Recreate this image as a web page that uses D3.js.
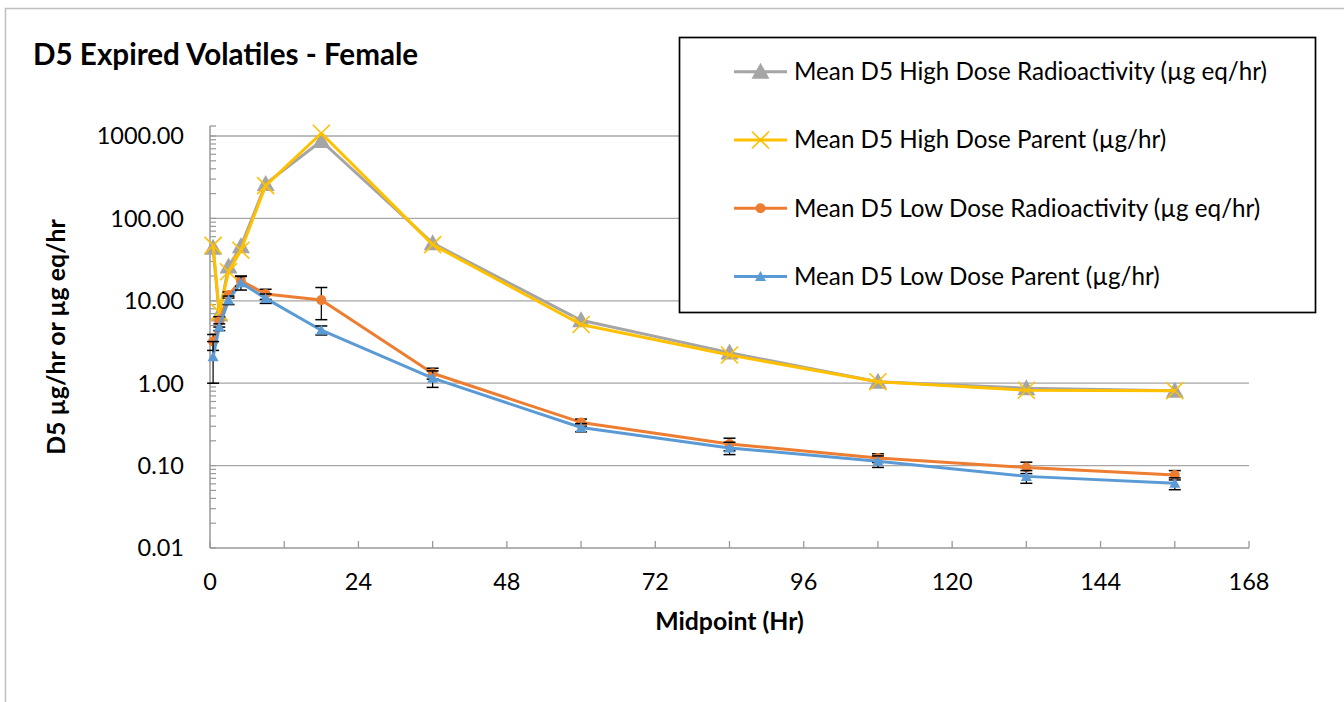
<!DOCTYPE html>
<html>
<head>
<meta charset="utf-8">
<script src="https://cdn.jsdelivr.net/npm/d3@7"></script>
<style>
  html, body { margin: 0; padding: 0; background: #fff; }
  svg { display: block; }
  text { font-family: Lato, "Open Sans", sans-serif; fill: #000; }
</style>
</head>
<body>
<svg id="chart" width="1344" height="702"></svg>
<script>
// ---- data ----
const hours = [0.5, 1.5, 3, 5, 9, 18, 36, 60, 84, 108, 132, 156];
const highRad = [44, 6.8, 26, 46, 262, 870, 50, 5.8, 2.35, 1.04, 0.87, 0.81];
const highParent = [47, 7.3, 22.5, 41, 250, 1080, 48, 5.15, 2.2, 1.04, 0.82, 0.81];
const lowRad = [3.2, 5.6, 11.8, 17.5, 12.1, 10.2, 1.32, 0.334, 0.183, 0.124, 0.095, 0.077];
const lowRadSD = [0.7, 0.8, 1.0, 2.5, 1.7, 4.3, 0.2, 0.033, 0.032, 0.015, 0.015, 0.01];
const lowParent = [2.1, 4.8, 10.2, 16.6, 10.7, 4.4, 1.15, 0.29, 0.164, 0.113, 0.074, 0.061];
const lowParentSD = [1.1, 0.45, 1.2, 3.1, 1.4, 0.55, 0.26, 0.033, 0.028, 0.018, 0.013, 0.01];
const xTickValues = [0, 24, 48, 72, 96, 120, 144, 168];
const yTickValues = [0.01, 0.1, 1, 10, 100, 1000];
const seriesNames = [
  "Mean D5 High Dose Radioactivity (µg eq/hr)",
  "Mean D5 High Dose Parent (µg/hr)",
  "Mean D5 Low Dose Radioactivity (µg eq/hr)",
  "Mean D5 Low Dose Parent (µg/hr)"
];
const titleText = "D5 Expired Volatiles - Female";
const xTitle = "Midpoint (Hr)";
const yTitle = "D5 µg/hr or µg eq/hr";

// ---- build ----
const svg = d3.select("#chart");
const x = d3.scaleLinear().domain([0, 168]).range([210, 1249]);
const y = d3.scaleLog().domain([0.01, 1000]).range([548, 136]);

const colors = ["#A5A5A5", "#FFC000", "#ED7D31", "#5B9BD5"];
const markers = ["bigTri", "x", "circle", "smallTri"];
const seriesVals = [highRad, highParent, lowRad, lowParent];
const seriesSD = [null, null, lowRadSD, lowParentSD];

// outer chart border
svg.append("rect").attr("x", 5.5).attr("y", 8.5).attr("width", 1400).attr("height", 800)
  .attr("fill", "none").attr("stroke", "#BFBFBF").attr("stroke-width", 1.5);

// title
svg.append("text").attr("x", 33).attr("y", 65).attr("font-size", 29.6)
  .attr("font-weight", "bold").text(titleText);

// gridlines
svg.append("g").selectAll("line").data(yTickValues.slice(1)).join("line")
  .attr("x1", x(0)).attr("x2", x(168))
  .attr("y1", d => y(d)).attr("y2", d => y(d))
  .attr("stroke", "#A6A6A6").attr("stroke-width", 1.3);

const axisColor = "#999999";
// y axis line (extends slightly above 1000 as in original)
svg.append("line").attr("x1", x(0)).attr("x2", x(0))
  .attr("y1", y(0.01)).attr("y2", y(1000) - 10)
  .attr("stroke", axisColor).attr("stroke-width", 1.5);
svg.append("line").attr("x1", x(0)).attr("x2", x(0) + 6)
  .attr("y1", y(1000) - 10).attr("y2", y(1000) - 10)
  .attr("stroke", axisColor).attr("stroke-width", 1.3);
// y ticks major + minor (inside)
const yMinor = [];
for (let k = -2; k <= 2; k++) for (let m = 1; m <= 9; m++) yMinor.push(m * Math.pow(10, k));
yMinor.push(1000);
svg.append("g").selectAll("line").data(yMinor).join("line")
  .attr("x1", x(0)).attr("x2", x(0) + 6)
  .attr("y1", d => y(d)).attr("y2", d => y(d))
  .attr("stroke", axisColor).attr("stroke-width", 1.2);
// y labels
svg.append("g").selectAll("text").data(yTickValues).join("text")
  .attr("x", 184).attr("y", d => y(d) + 8.4)
  .attr("text-anchor", "end").attr("font-size", 23.5)
  .text(d => d3.format(".2f")(d));

// x axis
svg.append("line").attr("x1", x(0)).attr("x2", x(168))
  .attr("y1", y(0.01)).attr("y2", y(0.01))
  .attr("stroke", axisColor).attr("stroke-width", 1.5);
svg.append("g").selectAll("line").data(d3.range(0, 169, 12)).join("line")
  .attr("x1", d => x(d)).attr("x2", d => x(d))
  .attr("y1", y(0.01)).attr("y2", y(0.01) - 7)
  .attr("stroke", axisColor).attr("stroke-width", 1.3);
svg.append("g").selectAll("text").data(xTickValues).join("text")
  .attr("x", d => x(d)).attr("y", 590)
  .attr("text-anchor", "middle").attr("font-size", 23.5)
  .text(d => d);

// axis titles
svg.append("text").attr("x", (x(0) + x(168)) / 2).attr("y", 630)
  .attr("text-anchor", "middle").attr("font-size", 24.8).attr("font-weight", "bold")
  .text(xTitle);
svg.append("text").attr("transform", `translate(65,${(y(0.01) + y(1000) - 10) / 2}) rotate(-90)`)
  .attr("text-anchor", "middle").attr("font-size", 24.8).attr("font-weight", "bold")
  .text(yTitle);

// marker drawing
function drawMarker(g, type, color, cx, cy) {
  if (type === "bigTri") {
    g.append("path").attr("d", `M${cx},${cy - 9} L${cx + 9},${cy + 7} L${cx - 9},${cy + 7} Z`)
      .attr("fill", color);
  } else if (type === "smallTri") {
    g.append("path").attr("d", `M${cx},${cy - 5.5} L${cx + 5.5},${cy + 4.5} L${cx - 5.5},${cy + 4.5} Z`)
      .attr("fill", color);
  } else if (type === "circle") {
    g.append("circle").attr("cx", cx).attr("cy", cy).attr("r", 5).attr("fill", color);
  } else if (type === "x") {
    g.append("path").attr("d", `M${cx - 8.5},${cy - 8.5} L${cx + 8.5},${cy + 8.5} M${cx + 8.5},${cy - 8.5} L${cx - 8.5},${cy + 8.5}`)
      .attr("stroke", color).attr("stroke-width", 1.6).attr("fill", "none");
  }
}

const line = d3.line().x(d => x(d[0])).y(d => y(d[1]));
seriesVals.forEach((vals, i) => {
  const g = svg.append("g");
  const pts = hours.map((h, j) => [h, vals[j]]);
  g.append("path").attr("d", line(pts)).attr("fill", "none")
    .attr("stroke", colors[i]).attr("stroke-width", 3).attr("stroke-linejoin", "round");
  if (seriesSD[i]) {
    pts.forEach((p, j) => {
      const sd = seriesSD[i][j];
      const lo = Math.max(p[1] - sd, 0.0101), hi = p[1] + sd;
      const cx = x(p[0]);
      g.append("line").attr("x1", cx).attr("x2", cx).attr("y1", y(lo)).attr("y2", y(hi))
        .attr("stroke", "#000").attr("stroke-width", 1.2);
      [lo, hi].forEach(v => g.append("line").attr("x1", cx - 6).attr("x2", cx + 6)
        .attr("y1", y(v)).attr("y2", y(v)).attr("stroke", "#000").attr("stroke-width", 1.5));
    });
  }
  pts.forEach(p => drawMarker(g, markers[i], colors[i], x(p[0]), y(p[1])));
});

// legend
const lg = svg.append("g");
lg.append("rect").attr("x", 679.5).attr("y", 37.5).attr("width", 636).attr("height", 275)
  .attr("fill", "#fff").attr("stroke", "#000").attr("stroke-width", 1.7);
seriesNames.forEach((name, i) => {
  const ly = 71.7 + i * 68.3;
  lg.append("line").attr("x1", 734).attr("x2", 787).attr("y1", ly).attr("y2", ly)
    .attr("stroke", colors[i]).attr("stroke-width", 3);
  drawMarker(lg, markers[i], colors[i], 760.5, ly);
  lg.append("text").attr("x", 794).attr("y", ly + 8.4).attr("font-size", 24.2).text(name);
});
</script>
</body>
</html>
